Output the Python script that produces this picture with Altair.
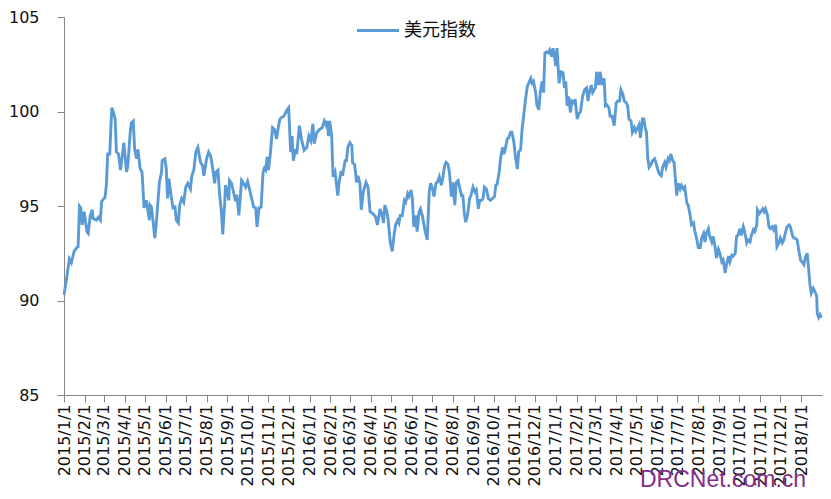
import altair as alt
import pandas as pd

# ---------------- data ----------------
dates_2015 = [
    "2015-01-01", "2015-01-05", "2015-01-09", "2015-01-12", "2015-01-16", "2015-01-20", "2015-01-22",
    "2015-01-24", "2015-01-26", "2015-01-28", "2015-01-31", "2015-02-04", "2015-02-06", "2015-02-09",
    "2015-02-12", "2015-02-13", "2015-02-18", "2015-02-21", "2015-02-24", "2015-02-26", "2015-03-03",
    "2015-03-05", "2015-03-07", "2015-03-10", "2015-03-13", "2015-03-15", "2015-03-18", "2015-03-20",
    "2015-03-23", "2015-03-26", "2015-03-29", "2015-03-31", "2015-04-04", "2015-04-06", "2015-04-09",
    "2015-04-11", "2015-04-14", "2015-04-16", "2015-04-19", "2015-04-21", "2015-04-24", "2015-04-27",
    "2015-04-30", "2015-05-03", "2015-05-05", "2015-05-08", "2015-05-09", "2015-05-11", "2015-05-14",
    "2015-05-16", "2015-05-18", "2015-05-21", "2015-05-23", "2015-05-26", "2015-05-27", "2015-05-31",
    "2015-06-02", "2015-06-04", "2015-06-06", "2015-06-09", "2015-06-12", "2015-06-15", "2015-06-17",
    "2015-06-20", "2015-06-22", "2015-06-25", "2015-06-28", "2015-07-01", "2015-07-04", "2015-07-08",
    "2015-07-10", "2015-07-13", "2015-07-16", "2015-07-19", "2015-07-23", "2015-07-26", "2015-07-28",
    "2015-08-01", "2015-08-04", "2015-08-07", "2015-08-09", "2015-08-13", "2015-08-15", "2015-08-18",
    "2015-08-20", "2015-08-23", "2015-08-25", "2015-08-28", "2015-08-29", "2015-08-31", "2015-09-03",
    "2015-09-04", "2015-09-07", "2015-09-10", "2015-09-13", "2015-09-15", "2015-09-18", "2015-09-20",
    "2015-09-22", "2015-09-25", "2015-09-28", "2015-10-01", "2015-10-04", "2015-10-07", "2015-10-10",
    "2015-10-13", "2015-10-15", "2015-10-18", "2015-10-21", "2015-10-24", "2015-10-26", "2015-10-28",
    "2015-10-30", "2015-11-01", "2015-11-04", "2015-11-07", "2015-11-10", "2015-11-13", "2015-11-16",
    "2015-11-18", "2015-11-21", "2015-11-24", "2015-11-28", "2015-12-01", "2015-12-04", "2015-12-06",
    "2015-12-08", "2015-12-11", "2015-12-13", "2015-12-17", "2015-12-20", "2015-12-24", "2015-12-28",
    "2015-12-31",
]
usd_2015 = [
    90.3, 91.2, 92.2, 92.0, 92.6, 92.8, 92.85,
    95.0, 94.9, 94.0, 94.7, 93.65, 93.55, 94.5,
    94.8, 94.35, 94.25, 94.4, 94.25, 95.25, 95.45,
    96.1, 97.75, 97.75, 100.2, 100.0, 99.6, 97.85,
    97.75, 96.9, 97.75, 98.35, 96.8, 97.15, 98.7,
    99.4, 99.5, 98.0, 97.5, 98.0, 97.0, 96.8,
    94.9, 95.3, 94.95, 94.25, 95.05, 94.95, 94.0,
    93.3, 94.0, 95.4, 96.3, 96.8, 97.4, 97.5,
    97.0, 95.4, 96.45, 95.6, 94.9, 94.95, 94.25,
    94.1, 95.05, 95.4, 95.2, 96.0, 96.2, 95.9,
    96.6, 96.9, 97.85, 98.1, 97.3, 97.15, 96.6,
    97.5, 97.85, 97.65, 97.25, 96.2, 96.8, 96.9,
    95.75, 94.7, 93.5, 95.2, 96.1, 95.9, 95.3,
    96.35, 96.2, 95.75, 95.25, 95.6, 94.5, 95.4,
    96.35, 96.2, 96.0, 96.3, 95.85, 95.4, 94.95,
    94.9, 93.9, 94.9, 94.95, 96.8, 97.0, 96.9,
    97.6, 96.9, 97.85, 99.15, 99.05, 98.55, 99.25,
    99.6, 99.7, 99.75, 100.05, 100.2, 97.85, 98.7,
    97.4, 98.0, 97.75, 99.25, 98.55, 97.95, 98.1,
    98.7,
]

dates_2016 = [
    "2016-01-03", "2016-01-06", "2016-01-08", "2016-01-12", "2016-01-16", "2016-01-20", "2016-01-23",
    "2016-01-26", "2016-01-28", "2016-01-29", "2016-01-31", "2016-02-03", "2016-02-05", "2016-02-08",
    "2016-02-12", "2016-02-14", "2016-02-17", "2016-02-19", "2016-02-23", "2016-02-25", "2016-02-27",
    "2016-03-01", "2016-03-04", "2016-03-05", "2016-03-08", "2016-03-11", "2016-03-13", "2016-03-16",
    "2016-03-18", "2016-03-21", "2016-03-25", "2016-03-28", "2016-03-31", "2016-04-04", "2016-04-08",
    "2016-04-11", "2016-04-15", "2016-04-18", "2016-04-20", "2016-04-22", "2016-04-25", "2016-04-27",
    "2016-04-30", "2016-05-03", "2016-05-06", "2016-05-08", "2016-05-11", "2016-05-13", "2016-05-15",
    "2016-05-18", "2016-05-21", "2016-05-23", "2016-05-26", "2016-05-28", "2016-05-31", "2016-06-02",
    "2016-06-04", "2016-06-07", "2016-06-09", "2016-06-12", "2016-06-14", "2016-06-17", "2016-06-21",
    "2016-06-24", "2016-06-27", "2016-06-29", "2016-07-02", "2016-07-04", "2016-07-07", "2016-07-09",
    "2016-07-12", "2016-07-15", "2016-07-17", "2016-07-20", "2016-07-22", "2016-07-25", "2016-07-27",
    "2016-07-30", "2016-08-01", "2016-08-04", "2016-08-06", "2016-08-09", "2016-08-12", "2016-08-14",
    "2016-08-16", "2016-08-18", "2016-08-20", "2016-08-23", "2016-08-26", "2016-08-28", "2016-08-31",
    "2016-09-03", "2016-09-05", "2016-09-08", "2016-09-10", "2016-09-13", "2016-09-15", "2016-09-17",
    "2016-09-20", "2016-09-23", "2016-09-26", "2016-09-29", "2016-10-02", "2016-10-04", "2016-10-06",
    "2016-10-09", "2016-10-11", "2016-10-14", "2016-10-16", "2016-10-18", "2016-10-21", "2016-10-23",
    "2016-10-26", "2016-10-28", "2016-10-31", "2016-11-02", "2016-11-05", "2016-11-07", "2016-11-10",
    "2016-11-12", "2016-11-15", "2016-11-17", "2016-11-20", "2016-11-22", "2016-11-25", "2016-11-27",
    "2016-11-29", "2016-12-02", "2016-12-04", "2016-12-07", "2016-12-09", "2016-12-12", "2016-12-14",
    "2016-12-16", "2016-12-18", "2016-12-21", "2016-12-23", "2016-12-26", "2016-12-28", "2016-12-30",
]
usd_2016 = [
    98.45, 99.35, 98.3, 98.9, 99.05, 99.15, 99.5,
    99.25, 99.5, 98.7, 99.5, 98.7, 96.55, 96.8,
    95.55, 96.25, 96.85, 96.6, 97.4, 97.4, 98.1,
    98.35, 98.2, 97.3, 97.2, 96.25, 96.6, 96.2,
    94.8, 95.75, 96.25, 96.0, 94.7, 94.6, 94.45,
    94.0, 94.85, 94.5, 94.1, 95.05, 94.7, 94.25,
    93.1, 92.6, 93.55, 94.0, 94.25, 94.1, 94.5,
    94.5, 95.3, 95.2, 95.65, 95.5, 95.85, 95.4,
    93.9, 94.5, 93.65, 94.7, 94.85, 94.45, 93.65,
    93.2, 95.75, 96.2, 95.9, 95.5, 96.2, 96.25,
    96.55, 96.1, 96.45, 97.15, 97.3, 97.2, 96.8,
    95.5, 96.25, 95.05, 96.25, 96.35, 95.85, 95.55,
    95.55, 94.7, 94.15, 94.5, 95.4, 95.55, 96.0,
    95.75, 95.85, 94.85, 95.3, 95.3, 95.4, 96.0,
    95.9, 95.4, 95.3, 95.4, 95.5, 96.1, 96.15,
    96.8, 97.5, 98.1, 97.75, 98.0, 98.55, 98.6,
    98.9, 98.9, 98.35, 97.65, 96.95, 97.85, 98.0,
    99.05, 99.95, 100.6, 101.35, 101.5, 101.75, 101.5,
    101.6, 101.05, 100.35, 100.1, 101.0, 101.6, 101.0,
    103.1, 103.15, 103.1, 103.25, 102.9, 103.35, 103.0,
]

dates_2017 = [
    "2017-01-01", "2017-01-03", "2017-01-06", "2017-01-09", "2017-01-12", "2017-01-14", "2017-01-16",
    "2017-01-18", "2017-01-20", "2017-01-23", "2017-01-25", "2017-01-28", "2017-01-30", "2017-02-02",
    "2017-02-04", "2017-02-07", "2017-02-10", "2017-02-13", "2017-02-16", "2017-02-18", "2017-02-20",
    "2017-02-23", "2017-02-25", "2017-03-01", "2017-03-03", "2017-03-06", "2017-03-08", "2017-03-11",
    "2017-03-14", "2017-03-16", "2017-03-18", "2017-03-21", "2017-03-23", "2017-03-26", "2017-03-29",
    "2017-04-01", "2017-04-03", "2017-04-06", "2017-04-08", "2017-04-11", "2017-04-13", "2017-04-16",
    "2017-04-18", "2017-04-20", "2017-04-23", "2017-04-25", "2017-04-28", "2017-04-30", "2017-05-03",
    "2017-05-05", "2017-05-07", "2017-05-10", "2017-05-12", "2017-05-14", "2017-05-16", "2017-05-18",
    "2017-05-20", "2017-05-23", "2017-05-25", "2017-05-28", "2017-05-30", "2017-06-02", "2017-06-04",
    "2017-06-07", "2017-06-09", "2017-06-12", "2017-06-14", "2017-06-17", "2017-06-19", "2017-06-21",
    "2017-06-24", "2017-06-26", "2017-06-28", "2017-06-30", "2017-07-02", "2017-07-05", "2017-07-07",
    "2017-07-10", "2017-07-12", "2017-07-15", "2017-07-17", "2017-07-20", "2017-07-22", "2017-07-25",
    "2017-07-27", "2017-07-30", "2017-08-01", "2017-08-04", "2017-08-06", "2017-08-09", "2017-08-11",
    "2017-08-13", "2017-08-16", "2017-08-18", "2017-08-21", "2017-08-23", "2017-08-26", "2017-08-28",
    "2017-08-31", "2017-09-02", "2017-09-05", "2017-09-07", "2017-09-10", "2017-09-12", "2017-09-15",
    "2017-09-17", "2017-09-20", "2017-09-22", "2017-09-25", "2017-09-27", "2017-09-29", "2017-10-02",
    "2017-10-04", "2017-10-07", "2017-10-09", "2017-10-12", "2017-10-14", "2017-10-17", "2017-10-19",
    "2017-10-22", "2017-10-24", "2017-10-27", "2017-10-28", "2017-10-31", "2017-11-02", "2017-11-05",
    "2017-11-07", "2017-11-09", "2017-11-12", "2017-11-14", "2017-11-16", "2017-11-19", "2017-11-21",
    "2017-11-24", "2017-11-26", "2017-11-29", "2017-12-01", "2017-12-04", "2017-12-06", "2017-12-09",
    "2017-12-11", "2017-12-14", "2017-12-16", "2017-12-19", "2017-12-21", "2017-12-23", "2017-12-26",
    "2017-12-28", "2017-12-31",
]
usd_2017 = [
    102.4, 103.35, 101.5, 102.1, 102.05, 101.25, 101.6,
    100.3, 100.8, 99.95, 100.55, 100.45, 100.65, 99.6,
    99.85, 100.0, 100.8, 101.15, 101.25, 100.55, 101.0,
    101.4, 101.0, 101.25, 102.1, 101.4, 102.1, 101.4,
    101.75, 100.3, 100.35, 100.2, 99.75, 99.75, 99.25,
    100.45, 100.55, 100.55, 101.15, 100.9, 100.55, 100.45,
    100.3, 99.6, 99.5, 98.9, 99.15, 98.95, 99.15,
    99.3, 98.6, 99.6, 99.6, 99.15, 98.9, 97.5,
    97.05, 97.2, 97.4, 97.5, 97.3, 96.9, 96.7,
    96.6, 97.05, 97.3, 97.05, 97.5, 97.4, 97.75,
    97.4, 97.3, 96.45, 95.55, 96.2, 95.9, 96.1,
    95.9, 96.0, 95.15, 95.05, 94.5, 94.0, 94.1,
    93.65, 93.2, 92.8, 92.8, 93.3, 93.55, 93.1,
    93.55, 93.8, 93.4, 93.1, 93.4, 92.85, 92.25,
    92.7, 92.5, 92.05, 92.15, 91.45, 91.9, 92.35,
    92.05, 92.4, 92.35, 92.5, 93.4, 93.45, 93.8,
    93.45, 93.9, 93.65, 93.05, 93.2, 93.1, 93.45,
    93.75, 93.65, 94.0, 94.8, 94.6, 94.7, 94.85,
    94.7, 94.85, 94.5, 93.9, 93.8, 93.9, 93.75,
    94.0, 92.85, 93.05, 93.3, 93.05, 93.2, 93.65,
    93.9, 94.0, 93.9, 93.45, 93.3, 93.3, 93.2,
    92.75, 92.15,
]

dates_2018 = [
    "2018-01-02", "2018-01-05", "2018-01-07", "2018-01-10", "2018-01-12", "2018-01-14", "2018-01-16",
    "2018-01-19", "2018-01-21", "2018-01-24", "2018-01-25", "2018-01-27", "2018-01-29", "2018-01-31",
]
usd_2018 = [
    92.05, 91.9, 92.25, 92.5, 91.7, 90.85, 90.4,
    90.65, 90.5, 90.25, 89.3, 89.1, 89.25, 89.1,
]

series_name = "美元指数"
watermark_text = "DRCNet.com.cn"
y_ticks = [85, 90, 95, 100, 105]

dates = dates_2015 + dates_2016 + dates_2017 + dates_2018
values = usd_2015 + usd_2016 + usd_2017 + usd_2018
df = pd.DataFrame({"date": dates, "value": values, "series": series_name})

LINE_COLOR = "#5B9BD5"
AXIS_COLOR = "#868686"
LABEL_COLOR = "#111111"

x_enc = alt.X(
    "date:T",
    title=None,
    scale=alt.Scale(
        type="utc",
        nice=False,
        domain=[
            alt.DateTime(year=2015, month=1, date=1, utc=True),
            alt.DateTime(year=2018, month=1, date=31, hours=23, utc=True),
        ],
    ),
    axis=alt.Axis(
        format="%Y/%-m/%-d",
        tickCount={"interval": "month", "step": 1},
        labelAngle=270,
        labelOverlap=False,
        labelFlush=False,
        labelFont="DejaVu Sans",
        labelFontSize=16,
        labelColor=LABEL_COLOR,
        labelPadding=2,
        tickSize=7,
        tickColor=AXIS_COLOR,
        domainColor=AXIS_COLOR,
        grid=False,
    ),
)

y_enc = alt.Y(
    "value:Q",
    title=None,
    scale=alt.Scale(domain=[85, 105], nice=False, zero=False),
    axis=alt.Axis(
        values=y_ticks,
        labelFont="DejaVu Sans",
        labelFontSize=16,
        labelColor=LABEL_COLOR,
        labelPadding=18,
        tickSize=7,
        tickColor=AXIS_COLOR,
        domainColor=AXIS_COLOR,
        grid=False,
    ),
)

line = alt.Chart(df).mark_line(color=LINE_COLOR, strokeWidth=2.9).encode(x=x_enc, y=y_enc)

legend_df = pd.DataFrame({"label": [series_name]})
legend_line = alt.Chart(legend_df).mark_rule(color=LINE_COLOR, strokeWidth=3).encode(
    x=alt.value(293), x2=alt.value(335), y=alt.value(13.5)
)
legend_text = alt.Chart(legend_df).mark_text(
    align="left", baseline="middle", font="Noto Sans CJK SC", fontSize=18, color=LABEL_COLOR
).encode(x=alt.value(340), y=alt.value(13.5), text="label:N")

wm_df = pd.DataFrame({"label": [watermark_text]})
watermark = alt.Chart(wm_df).mark_text(
    align="left", baseline="alphabetic", font="Liberation Sans", fontSize=23, color="#862D86"
).encode(x=alt.value(576), y=alt.value(470), text="label:N")

chart = (
    alt.layer(line, legend_line, legend_text, watermark)
    .properties(
        width=758,
        height=378,
        autosize=alt.AutoSizeParams(type="none"),
        padding={"left": 56, "top": 9, "right": 1, "bottom": 96},
        background="white",
    )
    .configure_view(strokeWidth=0)
)

chart.save("out.html", embed_options={"renderer": "svg", "actions": False})
